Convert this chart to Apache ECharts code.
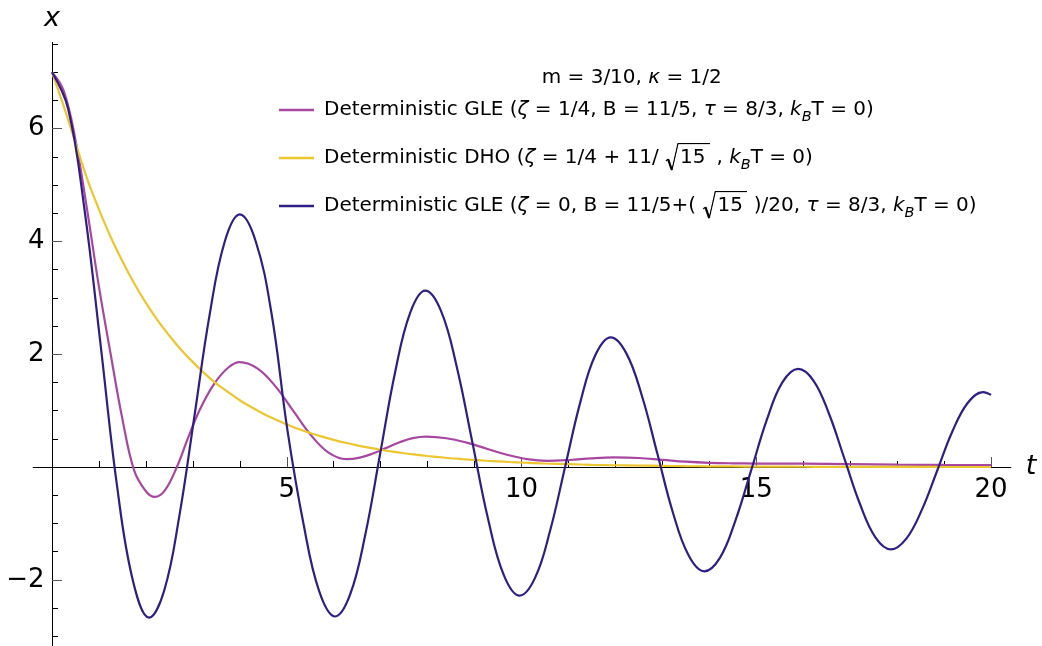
<!DOCTYPE html>
<html>
<head>
<meta charset="utf-8">
<script src="https://cdn.jsdelivr.net/npm/echarts@6/dist/echarts.min.js"></script>
<style>
  html, body { margin: 0; padding: 0; background: #fff; }
  #chart { width: 1042px; height: 646px; }
</style>
</head>
<body>
<div id="chart"></div>
<script>
// Deterministic GLE, zeta = 1/4 : sample times and positions
const gleDampedT = [
  0, 0.25, 0.5, 0.75, 1.0, 1.25, 1.5, 1.75, 2.0, 2.19,
  2.4, 2.66, 2.9, 3.15, 3.45, 3.75, 4.0,
  4.38, 4.76, 5.135, 5.51, 5.89, 6.27,
  6.555, 6.835, 7.12, 7.405, 7.685, 7.97,
  8.4, 8.83, 9.26, 9.69, 10.12, 10.55,
  11.02, 11.5, 11.97,
  12.5, 13.0, 13.5, 14.0, 14.5, 15.0,
  16.0, 17.0, 18.0, 19.0, 20.0
];
const gleDampedX = [
  7.00, 6.67, 5.80, 4.55, 3.20, 2.00, 0.85, -0.06, -0.43, -0.53,
  -0.42, 0.00, 0.52, 1.02, 1.47, 1.76, 1.86,
  1.745, 1.43, 1.00, 0.57, 0.255, 0.14,
  0.167, 0.24, 0.34, 0.44, 0.513, 0.54,
  0.511, 0.433, 0.325, 0.218, 0.139, 0.11,
  0.125, 0.155, 0.17,
  0.16, 0.128, 0.095, 0.075, 0.066, 0.062,
  0.060, 0.052, 0.042, 0.037, 0.034
];

// Deterministic DHO (overdamped)
const dhoT = [
  0, 0.25, 0.5, 0.75, 1, 1.25, 1.5, 1.75, 2, 2.25, 2.5, 2.75,
  3, 3.25, 3.5, 3.75, 4, 4.25, 4.5, 4.75, 5, 5.25, 5.5, 5.75,
  6, 6.25, 6.5, 6.75, 7, 7.25, 7.5, 7.75, 8, 8.25, 8.5, 8.75,
  9, 9.25, 9.5, 9.75, 10, 10.5, 11, 11.5, 12, 12.5, 13, 13.5,
  14, 14.5, 15, 15.5, 16, 16.5, 17, 17.5, 18, 18.5, 19, 19.5, 20
];
const dhoX = [
  7.00, 6.40, 5.75, 5.11, 4.57, 4.08, 3.65, 3.26, 2.91, 2.60, 2.33, 2.08,
  1.86, 1.66, 1.48, 1.33, 1.185, 1.059, 0.946, 0.846, 0.756, 0.675, 0.603, 0.539,
  0.482, 0.430, 0.385, 0.344, 0.307, 0.274, 0.245, 0.219, 0.196, 0.175, 0.156, 0.140,
  0.125, 0.111, 0.100, 0.089, 0.080, 0.063, 0.051, 0.040, 0.032, 0.026, 0.021, 0.016,
  0.013, 0.010, 0.008, 0.007, 0.005, 0.004, 0.003, 0.003, 0.002, 0.002, 0.001, 0.001, 0.001
];

// Deterministic GLE, zeta = 0
const gleUndampedT = [
  0, 0.345, 0.69, 1.035, 1.38, 1.725, 2.07,
  2.39, 2.71, 3.035, 3.355, 3.68, 4.0,
  4.34, 4.68, 5.015, 5.355, 5.69, 6.03,
  6.35, 6.67, 6.99, 7.31, 7.63, 7.95,
  8.285, 8.62, 8.955, 9.29, 9.625, 9.96,
  10.285, 10.605, 10.93, 11.255, 11.575, 11.9,
  12.23, 12.565, 12.895, 13.225, 13.56, 13.89,
  14.225, 14.555, 14.89, 15.225, 15.555, 15.89,
  16.22, 16.55, 16.88, 17.21, 17.54, 17.87,
  18.195, 18.525, 18.85, 19.175, 19.505, 19.83,
  20
];
const gleUndampedX = [
  7.00, 6.35, 4.58, 2.17, -0.30, -2.02, -2.67,
  -2.19, -0.88, 0.91, 2.69, 4.00, 4.48,
  4.00, 2.70, 0.65, -1.00, -2.20, -2.65,
  -2.26, -1.21, 0.24, 1.69, 2.74, 3.13,
  2.77, 1.78, 0.43, -0.93, -1.92, -2.28,
  -1.97, -1.14, 0.01, 1.16, 1.99, 2.30,
  2.02, 1.26, 0.23, -0.81, -1.57, -1.85,
  -1.61, -0.95, -0.06, 0.84, 1.50, 1.74,
  1.53, 0.94, 0.14, -0.66, -1.25, -1.46,
  -1.27, -0.76, -0.07, 0.63, 1.14, 1.33,
  1.28
];

const xMajorTicks = [5, 10, 15, 20];
const xMinorTicks = [1, 2, 3, 4, 6, 7, 8, 9, 11, 12, 13, 14, 16, 17, 18, 19];
const yMajorTicks = [-2, 2, 4, 6];
const yMinorTicks = [-3, -2.5, -1.5, -1, -0.5, 0.5, 1, 1.5, 2.5, 3, 3.5, 4.5, 5, 5.5, 6.5, 7, 7.5];

const seriesNames = [
  'Deterministic GLE (ζ = 1/4, B = 11/5, τ = 8/3, kBT = 0)',
  'Deterministic DHO (ζ = 1/4 + 11/√15, kBT = 0)',
  'Deterministic GLE (ζ = 0, B = 11/5+(√15)/20, τ = 8/3, kBT = 0)'
];
const legendLabels = [
  'Deterministic GLE ({i|ζ} = 1/4, B = 11/5, {i|τ} = 8/3, {i|k}{sub|B}T = 0)',
  'Deterministic DHO ({i|ζ} = 1/4 + 11/ {sq|15} , {i|k}{sub|B}T = 0)',
  'Deterministic GLE ({i|ζ} = 0, B = 11/5+( {sq|15} )/20, {i|τ} = 8/3, {i|k}{sub|B}T = 0)'
];
const seriesColors = ['#a8479f', '#ecc62f', '#2d1f84'];
const paramsLabel = 'm = 3/10, {i|κ} = 1/2';

const FONT = 'DejaVu Sans';

// Radical sign drawn as the background of the "15" token (box 45 x 31 px)
const radical = document.createElement('canvas');
radical.width = 90;
radical.height = 62;
(function () {
  const ctx = radical.getContext('2d');
  ctx.scale(2, 2);
  ctx.strokeStyle = '#000';
  ctx.lineCap = 'butt';
  ctx.lineJoin = 'miter';
  ctx.lineWidth = 1.2;
  ctx.beginPath(); ctx.moveTo(0.8, 18.4); ctx.lineTo(3.0, 16.6); ctx.stroke();
  ctx.lineWidth = 2.2;
  ctx.beginPath(); ctx.moveTo(3.0, 16.6); ctx.lineTo(6.8, 27.6); ctx.stroke();
  ctx.lineWidth = 1.2;
  ctx.beginPath(); ctx.moveTo(6.8, 27.6); ctx.lineTo(12.9, 1.0); ctx.lineTo(45, 1.0); ctx.stroke();
})();

const richStyles = {
  i: { fontFamily: FONT, fontSize: 20, fontStyle: 'italic', color: '#000', lineHeight: 32 },
  sub: { fontFamily: FONT, fontSize: 14.5, fontStyle: 'italic', color: '#000', lineHeight: 10, padding: [14, 0, 0, 0], verticalAlign: 'middle' },
  sq: {
    fontFamily: FONT, fontSize: 20, color: '#000',
    width: 26, height: 31, lineHeight: 32, padding: [0, 4, 0, 15], verticalAlign: 'middle',
    backgroundColor: { image: radical }
  }
};

const pairs = (ts, xs) => ts.map((t, i) => [t, xs[i]]);
const curves = [
  pairs(gleDampedT, gleDampedX),
  pairs(dhoT, dhoX),
  pairs(gleUndampedT, gleUndampedX)
];
const fmtTick = (v) => (v < 0 ? '\u2212' + Math.abs(v) : String(v));

const X_MIN = -0.4, X_MAX = 20.42;
const Y_MIN = -3.17, Y_MAX = 7.53;

const chart = echarts.init(document.getElementById('chart'), null, { renderer: 'canvas' });

const tickLabelStyle = { fontFamily: FONT, fontSize: 26, color: '#000', opacity: 1, textBorderWidth: 0 };

chart.setOption({
  animation: false,
  backgroundColor: '#fff',
  textStyle: { fontFamily: FONT },
  grid: {
    left: 33.2, right: 31.2, top: 42.4, bottom: 0.2,
    containLabel: false,
    outerBoundsMode: 'none'
  },
  xAxis: [
    {
      type: 'value', min: X_MIN, max: X_MAX, position: 'bottom',
      name: 't', nameLocation: 'end', nameGap: 15,
      nameTextStyle: { fontFamily: FONT, fontSize: 27, fontStyle: 'italic', color: '#000' },
      axisLine: { show: true, onZero: true, onZeroAxisIndex: 0, lineStyle: { color: '#000', width: 1 } },
      axisTick: { show: true, inside: true, length: 10, customValues: xMajorTicks, lineStyle: { color: '#555', width: 1 } },
      axisLabel: { show: false },
      splitLine: { show: false }
    },
    {
      type: 'value', min: X_MIN, max: X_MAX, position: 'bottom',
      axisLine: { show: false, onZero: true, onZeroAxisIndex: 0 },
      axisTick: { show: true, inside: true, length: 6, customValues: xMinorTicks, lineStyle: { color: '#000', width: 1 } },
      axisLabel: { show: false },
      splitLine: { show: false }
    }
  ],
  yAxis: [
    {
      type: 'value', min: Y_MIN, max: Y_MAX, position: 'left',
      name: 'x', nameLocation: 'end', nameGap: 10,
      nameTextStyle: { fontFamily: FONT, fontSize: 27, fontStyle: 'italic', color: '#000' },
      axisLine: { show: true, onZero: true, onZeroAxisIndex: 0, lineStyle: { color: '#000', width: 1 } },
      axisTick: { show: true, inside: true, length: 10, customValues: yMajorTicks, lineStyle: { color: '#555', width: 1 } },
      axisLabel: { show: false },
      splitLine: { show: false }
    },
    {
      type: 'value', min: Y_MIN, max: Y_MAX, position: 'left',
      axisLine: { show: false, onZero: true, onZeroAxisIndex: 0 },
      axisTick: { show: true, inside: true, length: 6, customValues: yMinorTicks, lineStyle: { color: '#000', width: 1 } },
      axisLabel: { show: false },
      splitLine: { show: false }
    }
  ],
  legend: {
    orient: 'vertical', left: 279, top: 94, padding: 0,
    itemWidth: 35, itemHeight: 2.5, itemGap: 16, icon: 'rect',
    selectedMode: false,
    data: seriesNames,
    formatter: (name) => legendLabels[seriesNames.indexOf(name)],
    textStyle: {
      fontFamily: FONT, fontSize: 20, color: '#000', lineHeight: 32,
      padding: [0, 0, 0, 5],
      rich: richStyles
    }
  },
  graphic: [
    {
      type: 'text', x: 541.7, y: 78,
      style: {
        text: paramsLabel,
        fontFamily: FONT, fontSize: 20, fill: '#000',
        verticalAlign: 'middle', align: 'left',
        rich: { i: { fontFamily: FONT, fontSize: 20, fontStyle: 'italic', fill: '#000' } }
      }
    }
  ],
  series: curves.map((data, k) => ({
    name: seriesNames[k],
    type: 'line',
    xAxisIndex: 0, yAxisIndex: 0,
    data: data,
    color: seriesColors[k],
    showSymbol: false, symbol: 'none',
    smooth: 0.4,
    lineStyle: { width: 2.2, color: seriesColors[k] },
    emphasis: { disabled: true },
    z: 2 + k
  })).concat([
    {
      // tick labels of the t axis, placed through the axis scale
      type: 'scatter', xAxisIndex: 0, yAxisIndex: 0,
      data: xMajorTicks.map((v) => [v, 0]),
      symbol: 'circle', symbolSize: 1,
      itemStyle: { color: 'rgba(0,0,0,0)' },
      label: Object.assign({ show: true, position: 'bottom', distance: 10, formatter: (p) => fmtTick(p.value[0]) }, tickLabelStyle),
      silent: true, emphasis: { disabled: true }, z: 1
    },
    {
      // tick labels of the x axis
      type: 'scatter', xAxisIndex: 0, yAxisIndex: 0,
      data: yMajorTicks.map((v) => [0, v]),
      symbol: 'circle', symbolSize: 1,
      itemStyle: { color: 'rgba(0,0,0,0)' },
      label: Object.assign({ show: true, position: 'left', distance: 7, formatter: (p) => fmtTick(p.value[1]) }, tickLabelStyle),
      silent: true, emphasis: { disabled: true }, z: 1
    }
  ])
});
</script>
</body>
</html>
